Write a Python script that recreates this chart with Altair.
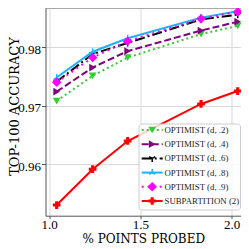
import altair as alt
import pandas as pd

# ---- data ----
x_probed = [1.042, 1.239, 1.431, 1.833, 2.034]
series_names = [
    "OPTIMIST (d, .2)",
    "OPTIMIST (d, .4)",
    "OPTIMIST (d, .6)",
    "OPTIMIST (d, .8)",
    "OPTIMIST (d, .9)",
    "SUBPARTITION (2)",
]
acc_d2 = [0.9708, 0.9751, 0.9782, 0.9822, 0.9836]
acc_d4 = [0.9724, 0.9765, 0.9793, 0.9828, 0.9843]
acc_d6 = [0.9741, 0.9788, 0.9807, 0.9847, 0.9855]
acc_d8 = [0.9748, 0.9792, 0.9815, 0.9850, 0.9861]
acc_d9 = [0.9740, 0.9782, 0.9810, 0.9848, 0.9860]
acc_sub = [0.9531, 0.9592, 0.9640, 0.9703, 0.9725]
x_ticks = [1.0, 1.5, 2.0]
y_ticks = [0.96, 0.97, 0.98]

all_acc = [acc_d2, acc_d4, acc_d6, acc_d8, acc_d9, acc_sub]
rows = []
for name, accs in zip(series_names, all_acc):
    for xv, yv in zip(x_probed, accs):
        rows.append({"series": name, "x": xv, "acc": yv})
df = pd.DataFrame(rows)

# ---- styles ----
TRI_DOWN = "M0,0L0,1M0,0L-0.866,-0.5M0,0L0.866,-0.5"
TRI_UP = "M0,0L0,-1M0,0L-0.866,0.5M0,0L0.866,0.5"
styles = [
    dict(color="#33cc33", dash=[2, 3], shape="triangle-down", filled=True, size=60),
    dict(color="#800080", dash=[7, 3], shape="triangle-right", filled=True, size=60),
    dict(color="#000000", dash=[10, 3, 2, 3], shape=TRI_DOWN, filled=False, size=50),
    dict(color="#1ab2ff", dash=None, shape=TRI_UP, filled=False, size=50),
    dict(color="#ff00ff", dash=[2, 4], shape="diamond", filled=True, size=90),
    dict(color="#ff0000", dash=None, shape="cross", filled=True, size=60),
]

W, H = 195.5, 207.7
x_enc = alt.X(
    "x:Q",
    scale=alt.Scale(domain=[0.9808, 2.052], nice=False, zero=False),
    axis=alt.Axis(
        values=x_ticks, format=".1f", title="% POINTS PROBED",
        titleFont="DejaVu Serif", titleFontSize=12, titleFontWeight="normal",
        titleColor="black", titleY=27, titleBaseline="alphabetic",
        labelFont="Liberation Serif", labelFontSize=13, labelColor="black",
        labelPadding=0, tickSize=3, tickColor="#555", domainColor="#555",
        gridColor="#d9d9d9", labelFlush=False,
    ),
)
y_enc = alt.Y(
    "acc:Q",
    scale=alt.Scale(domain=[0.95128, 0.98664], nice=False, zero=False),
    axis=alt.Axis(
        values=y_ticks, format=".2f", title="TOP-100 ACCURACY",
        titleFont="DejaVu Serif", titleFontSize=13, titleFontWeight="normal",
        titleColor="black", titleX=-27.5, titleY=98, titleAngle=270,
        titleBaseline="alphabetic", titleAlign="center",
        labelFont="Liberation Serif", labelFontSize=13, labelColor="black",
        labelPadding=1, tickSize=4, tickColor="#555", domainColor="#555",
        gridColor="#d9d9d9", labelOffset=2, labelFlush=False,
    ),
)

layers = []
# top spine
layers.append(
    alt.Chart(pd.DataFrame({"k": [0]})).mark_rule(color="#555", strokeWidth=1).encode(
        x=alt.value(0), x2=alt.value(W), y=alt.value(0)
    )
)
for name, st in zip(series_names, styles):
    base = alt.Chart(df).transform_filter(alt.datum.series == name)
    line_kw = dict(color=st["color"], strokeWidth=2)
    if st["dash"]:
        line_kw["strokeDash"] = st["dash"]
    layers.append(base.mark_line(**line_kw).encode(x=x_enc, y=y_enc))
    pt_kw = dict(shape=st["shape"], size=st["size"], opacity=1)
    if st["filled"]:
        pt_kw.update(filled=True, color=st["color"])
    else:
        pt_kw.update(filled=False, color=st["color"], strokeWidth=1.5)
    layers.append(base.mark_point(**pt_kw).encode(x=x_enc, y=y_enc))

# legend box
LX0, LX1, LY0, LY1 = 93.5, 195.0, 116.0, 202.0
layers.append(
    alt.Chart(pd.DataFrame({"k": [0]})).mark_rect(
        fill="white", fillOpacity=0.8, stroke="#cccccc", strokeWidth=1, cornerRadius=3
    ).encode(x=alt.value(LX0), x2=alt.value(LX1), y=alt.value(LY0), y2=alt.value(LY1))
)
for i, (name, st) in enumerate(zip(series_names, styles)):
    py = 122 + 14.2 * i
    one = alt.Chart(pd.DataFrame({"series": [name]}))
    rk = dict(color=st["color"], strokeWidth=2)
    if st["dash"]:
        rk["strokeDash"] = st["dash"]
    layers.append(one.mark_rule(**rk).encode(x=alt.value(96.2), x2=alt.value(117.2), y=alt.value(py)))
    pt_kw = dict(shape=st["shape"], size=st["size"], opacity=1, color=st["color"])
    if st["filled"]:
        pt_kw["filled"] = True
    else:
        pt_kw.update(filled=False, strokeWidth=1.5)
    layers.append(one.mark_point(**pt_kw).encode(x=alt.value(106.7), y=alt.value(py)))
    layers.append(
        one.mark_text(
            font="Liberation Serif", fontSize=8.8, align="left", baseline="middle", color="#222"
        ).encode(text="series:N", x=alt.value(119), y=alt.value(py))
    )

chart = (
    alt.layer(*layers)
    .properties(
        width=W, height=H,
        autosize=alt.AutoSizeParams(type="none"),
        padding={"left": 37.5, "top": 0, "right": 0, "bottom": 33.3},
    )
    .configure_view(stroke=None)
)

chart.save("out.html", embed_options={"renderer": "svg", "actions": False})
